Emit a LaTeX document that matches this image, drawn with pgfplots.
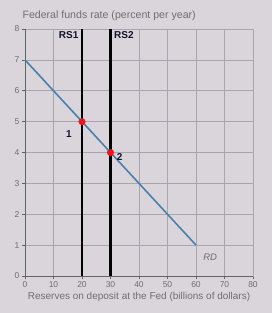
\documentclass[border=0pt]{standalone}
\usepackage{pgfplots}
\pgfplotsset{compat=1.18}
\usepackage{fontspec}
\setmainfont{Liberation Sans}
\definecolor{bg}{RGB}{218,213,219}
\definecolor{gridc}{RGB}{168,166,172}
\definecolor{axc}{RGB}{95,100,100}
\definecolor{txt}{RGB}{110,110,115}
\definecolor{rdc}{RGB}{75,128,170}
\definecolor{ptc}{RGB}{240,20,30}
\definecolor{lab}{RGB}{15,20,45}
\begin{document}
\begin{tikzpicture}
\fill[bg] (0,0) rectangle (272pt,313pt);
\begin{axis}[
  at={(25pt,37pt)}, anchor=south west,
  scale only axis, width=228pt, height=247pt,
  xmin=0, xmax=80, ymin=0, ymax=8,
  xtick={0,10,...,80}, ytick={0,1,...,8},
  grid=major, major grid style={gridc, line width=0.6pt},
  axis line style={gridc, line width=0.6pt},
  tick style={axc, line width=0.6pt},
  tick align=outside, major tick length=3pt,
  xtick pos=bottom, ytick pos=left,
  ticklabel style={font=\fontsize{8.5}{9}\selectfont, text=txt},
  xticklabel style={yshift=1pt},
  yticklabel style={xshift=1pt},
  /pgf/number format/assume math mode=true,
  clip=false,
]
\draw[axc, line width=0.8pt] (axis cs:0,8) -- (axis cs:0,0) -- (axis cs:80,0);
\addplot[rdc, line width=1.6pt] coordinates {(0,7) (60,1)};
\addplot[black, line width=2.6pt] coordinates {(20,0) (20,8)};
\addplot[black, line width=2.6pt] coordinates {(30,0) (30,8)};
\addplot[only marks, mark=*, mark size=3.3pt, ptc] coordinates {(20,5) (30,4)};
\node[font=\fontsize{10}{11}\selectfont\bfseries, text=lab] at (axis cs:15.3,7.8) {RS1};
\node[font=\fontsize{10}{11}\selectfont\bfseries, text=lab] at (axis cs:34.7,7.8) {RS2};
\node[font=\fontsize{10}{11}\selectfont\bfseries, text=lab] at (axis cs:15.4,4.6) {1};
\node[font=\fontsize{10}{11}\selectfont\bfseries, text=lab] at (axis cs:33.2,3.85) {2};
\node[font=\fontsize{9.5}{10}\selectfont\itshape, text=txt] at (axis cs:65,0.62) {RD};
\end{axis}
\node[anchor=west, font=\fontsize{10.6}{11}\selectfont, text=txt] at (19pt,297pt) {Federal funds rate (percent per year)};
\node[font=\fontsize{10}{11}\selectfont, text=txt] at (139pt,16pt) {Reserves on deposit at the Fed (billions of dollars)};
\end{tikzpicture}
\end{document}
